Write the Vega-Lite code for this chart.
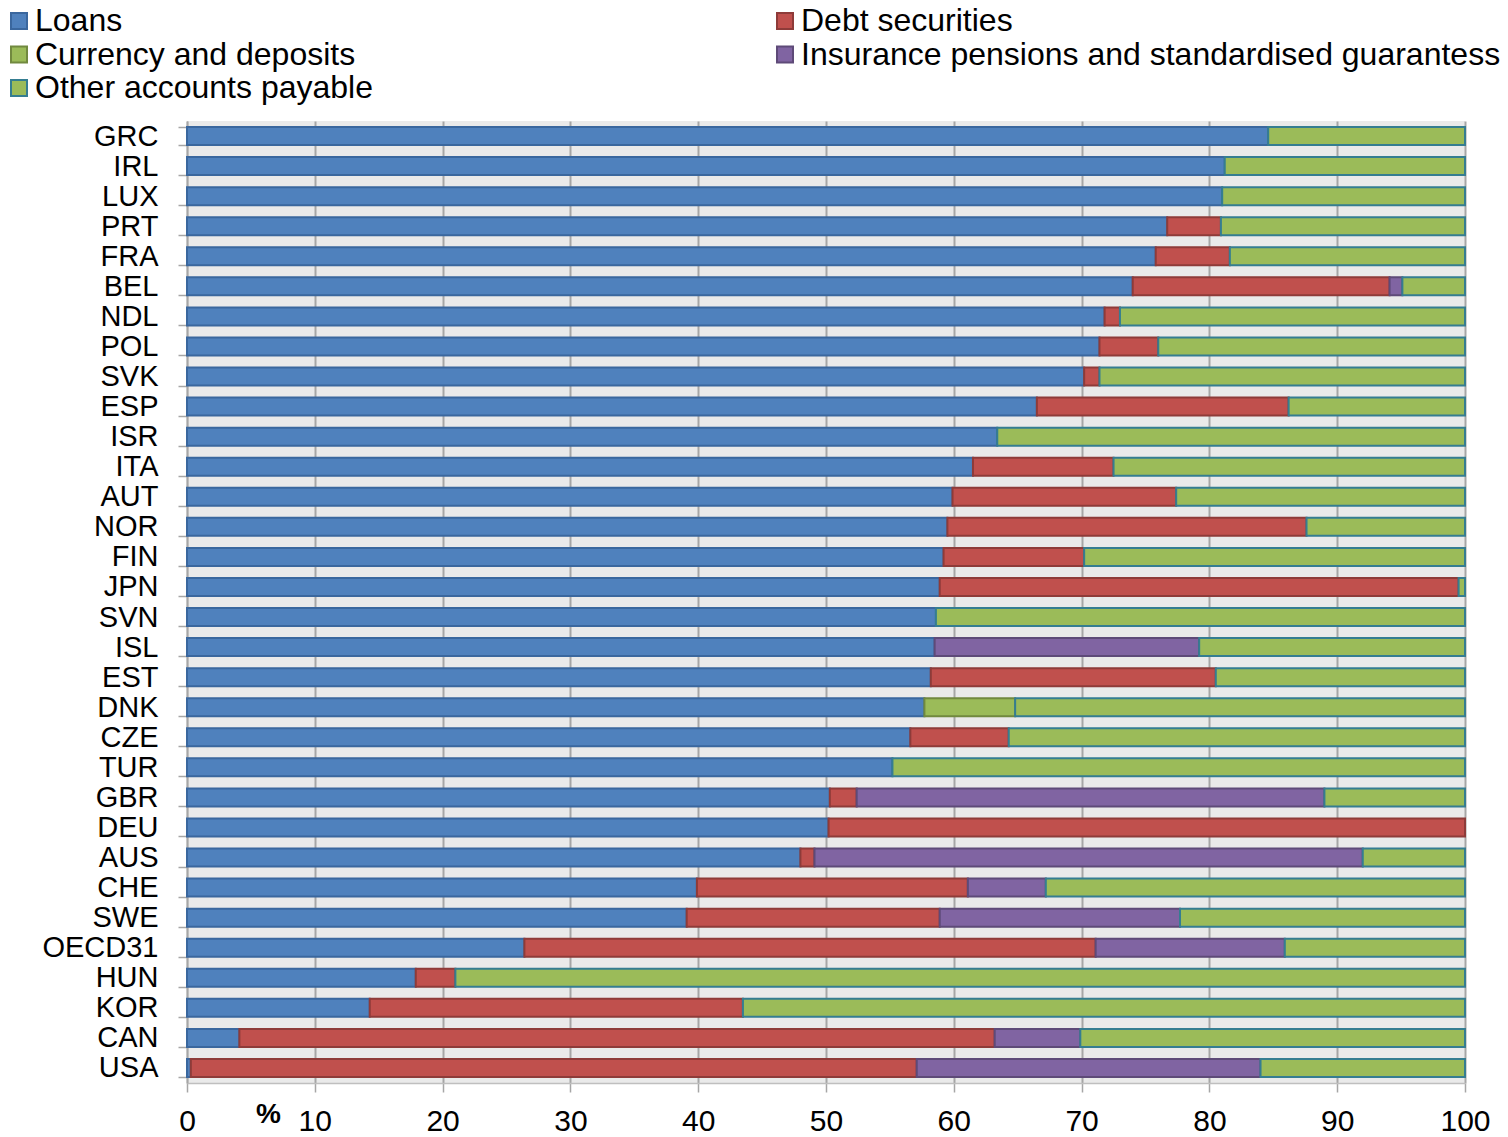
{
  "$schema": "https://vega.github.io/schema/vega-lite/v6.json",
  "autosize": {"type": "none"},
  "width": 1278,
  "height": 962,
  "padding": {"left": 187, "top": 121, "right": 43, "bottom": 54},
  "background": "#FFFFFF",
  "config": {
    "font": "Liberation Sans",
    "view": {"fill": "#EAEAEA", "stroke": null},
    "legend": {
      "title": null,
      "orient": "none",
      "legendX": -184,
      "legendY": -116,
      "direction": "horizontal",
      "columns": 2,
      "columnPadding": 396,
      "rowPadding": 1.5,
      "padding": 0,
      "labelFontSize": 32,
      "labelColor": "#000000",
      "labelOffset": 0,
      "labelLimit": 800,
      "symbolType": "square",
      "symbolSize": 256,
      "symbolStrokeWidth": 2,
      "symbolOpacity": 1
    }
  },
  "data": {
    "values": [
      {"country": "GRC", "Loans": 84.6, "Debt securities": 0, "Currency and deposits": 0, "Insurance pensions and standardised guarantess": 0, "Other accounts payable": 15.4},
      {"country": "IRL", "Loans": 81.2, "Debt securities": 0, "Currency and deposits": 0, "Insurance pensions and standardised guarantess": 0, "Other accounts payable": 18.8},
      {"country": "LUX", "Loans": 81.0, "Debt securities": 0, "Currency and deposits": 0, "Insurance pensions and standardised guarantess": 0, "Other accounts payable": 19.0},
      {"country": "PRT", "Loans": 76.7, "Debt securities": 4.2, "Currency and deposits": 0, "Insurance pensions and standardised guarantess": 0, "Other accounts payable": 19.1},
      {"country": "FRA", "Loans": 75.8, "Debt securities": 5.8, "Currency and deposits": 0, "Insurance pensions and standardised guarantess": 0, "Other accounts payable": 18.4},
      {"country": "BEL", "Loans": 74.0, "Debt securities": 20.1, "Currency and deposits": 0, "Insurance pensions and standardised guarantess": 1.0, "Other accounts payable": 4.9},
      {"country": "NDL", "Loans": 71.8, "Debt securities": 1.2, "Currency and deposits": 0, "Insurance pensions and standardised guarantess": 0, "Other accounts payable": 27.0},
      {"country": "POL", "Loans": 71.4, "Debt securities": 4.6, "Currency and deposits": 0, "Insurance pensions and standardised guarantess": 0, "Other accounts payable": 24.0},
      {"country": "SVK", "Loans": 70.2, "Debt securities": 1.2, "Currency and deposits": 0, "Insurance pensions and standardised guarantess": 0, "Other accounts payable": 28.6},
      {"country": "ESP", "Loans": 66.5, "Debt securities": 19.7, "Currency and deposits": 0, "Insurance pensions and standardised guarantess": 0, "Other accounts payable": 13.8},
      {"country": "ISR", "Loans": 63.4, "Debt securities": 0, "Currency and deposits": 0, "Insurance pensions and standardised guarantess": 0, "Other accounts payable": 36.6},
      {"country": "ITA", "Loans": 61.5, "Debt securities": 11.0, "Currency and deposits": 0, "Insurance pensions and standardised guarantess": 0, "Other accounts payable": 27.5},
      {"country": "AUT", "Loans": 59.9, "Debt securities": 17.5, "Currency and deposits": 0, "Insurance pensions and standardised guarantess": 0, "Other accounts payable": 22.6},
      {"country": "NOR", "Loans": 59.5, "Debt securities": 28.1, "Currency and deposits": 0, "Insurance pensions and standardised guarantess": 0, "Other accounts payable": 12.4},
      {"country": "FIN", "Loans": 59.2, "Debt securities": 11.0, "Currency and deposits": 0, "Insurance pensions and standardised guarantess": 0, "Other accounts payable": 29.8},
      {"country": "JPN", "Loans": 58.9, "Debt securities": 40.6, "Currency and deposits": 0, "Insurance pensions and standardised guarantess": 0, "Other accounts payable": 0.5},
      {"country": "SVN", "Loans": 58.6, "Debt securities": 0, "Currency and deposits": 0, "Insurance pensions and standardised guarantess": 0, "Other accounts payable": 41.4},
      {"country": "ISL", "Loans": 58.5, "Debt securities": 0, "Currency and deposits": 0, "Insurance pensions and standardised guarantess": 20.7, "Other accounts payable": 20.8},
      {"country": "EST", "Loans": 58.2, "Debt securities": 22.3, "Currency and deposits": 0, "Insurance pensions and standardised guarantess": 0, "Other accounts payable": 19.5},
      {"country": "DNK", "Loans": 57.7, "Debt securities": 0, "Currency and deposits": 7.1, "Insurance pensions and standardised guarantess": 0, "Other accounts payable": 35.2},
      {"country": "CZE", "Loans": 56.6, "Debt securities": 7.7, "Currency and deposits": 0, "Insurance pensions and standardised guarantess": 0, "Other accounts payable": 35.7},
      {"country": "TUR", "Loans": 55.2, "Debt securities": 0, "Currency and deposits": 0, "Insurance pensions and standardised guarantess": 0, "Other accounts payable": 44.8},
      {"country": "GBR", "Loans": 50.3, "Debt securities": 2.1, "Currency and deposits": 0, "Insurance pensions and standardised guarantess": 36.6, "Other accounts payable": 11.0},
      {"country": "DEU", "Loans": 50.2, "Debt securities": 49.8, "Currency and deposits": 0, "Insurance pensions and standardised guarantess": 0, "Other accounts payable": 0},
      {"country": "AUS", "Loans": 48.0, "Debt securities": 1.1, "Currency and deposits": 0, "Insurance pensions and standardised guarantess": 42.9, "Other accounts payable": 8.0},
      {"country": "CHE", "Loans": 39.9, "Debt securities": 21.2, "Currency and deposits": 0, "Insurance pensions and standardised guarantess": 6.1, "Other accounts payable": 32.8},
      {"country": "SWE", "Loans": 39.1, "Debt securities": 19.8, "Currency and deposits": 0, "Insurance pensions and standardised guarantess": 18.8, "Other accounts payable": 22.3},
      {"country": "OECD31", "Loans": 26.4, "Debt securities": 44.7, "Currency and deposits": 0, "Insurance pensions and standardised guarantess": 14.8, "Other accounts payable": 14.1},
      {"country": "HUN", "Loans": 17.9, "Debt securities": 3.1, "Currency and deposits": 0, "Insurance pensions and standardised guarantess": 0, "Other accounts payable": 79.0},
      {"country": "KOR", "Loans": 14.3, "Debt securities": 29.2, "Currency and deposits": 0, "Insurance pensions and standardised guarantess": 0, "Other accounts payable": 56.5},
      {"country": "CAN", "Loans": 4.1, "Debt securities": 59.1, "Currency and deposits": 0, "Insurance pensions and standardised guarantess": 6.7, "Other accounts payable": 30.1},
      {"country": "USA", "Loans": 0.3, "Debt securities": 56.8, "Currency and deposits": 0, "Insurance pensions and standardised guarantess": 26.9, "Other accounts payable": 16.0}
    ]
  },
  "transform": [
    {"fold": ["Loans", "Debt securities", "Currency and deposits", "Insurance pensions and standardised guarantess", "Other accounts payable"], "as": ["type", "value"]},
    {"filter": "datum.value > 0"},
    {"calculate": "indexof(['Loans', 'Debt securities', 'Currency and deposits', 'Insurance pensions and standardised guarantess', 'Other accounts payable'], datum.type)", "as": "stackIndex"}
  ],
  "mark": {"type": "bar", "strokeWidth": 2},
  "encoding": {
    "y": {
      "field": "country",
      "type": "nominal",
      "sort": null,
      "scale": {"paddingInner": 0.4, "paddingOuter": 0.2},
      "axis": {
        "title": null,
        "labelFontSize": 29,
        "labelColor": "#000000",
        "labelPadding": 20,
        "labelOverlap": false,
        "tickBand": "extent",
        "tickSize": 9,
        "tickColor": "#A6A6A6",
        "tickWidth": 1.5,
        "domainColor": "#A6A6A6",
        "domainWidth": 1.5
      }
    },
    "x": {
      "field": "value",
      "type": "quantitative",
      "stack": "zero",
      "scale": {"domain": [0, 100], "nice": false},
      "axis": {
        "title": "%",
        "titleFontSize": 28,
        "titleFontWeight": "bold",
        "titleColor": "#000000",
        "titleX": 81,
        "titleY": 31,
        "titleAlign": "center",
        "titleBaseline": "middle",
        "values": [0, 10, 20, 30, 40, 50, 60, 70, 80, 90, 100],
        "labelFontSize": 30,
        "labelColor": "#000000",
        "labelPadding": 14,
        "labelFlush": false,
        "tickSize": 9,
        "tickColor": "#A6A6A6",
        "tickWidth": 1.5,
        "domainColor": "#BFBFBF",
        "domainWidth": 1.5,
        "grid": true,
        "gridColor": "#A6A6A6",
        "gridWidth": 2
      }
    },
    "order": {"field": "stackIndex", "type": "quantitative"},
    "fill": {
      "field": "type",
      "type": "nominal",
      "scale": {
        "domain": ["Loans", "Debt securities", "Currency and deposits", "Insurance pensions and standardised guarantess", "Other accounts payable"],
        "range": ["#4F81BD", "#C0504D", "#9BBB59", "#8064A2", "#9BBB59"]
      },
      "legend": {}
    },
    "stroke": {
      "field": "type",
      "type": "nominal",
      "scale": {
        "domain": ["Loans", "Debt securities", "Currency and deposits", "Insurance pensions and standardised guarantess", "Other accounts payable"],
        "range": ["#3A679E", "#8E3B39", "#71893F", "#5E4A78", "#357D91"]
      },
      "legend": {}
    }
  }
}
